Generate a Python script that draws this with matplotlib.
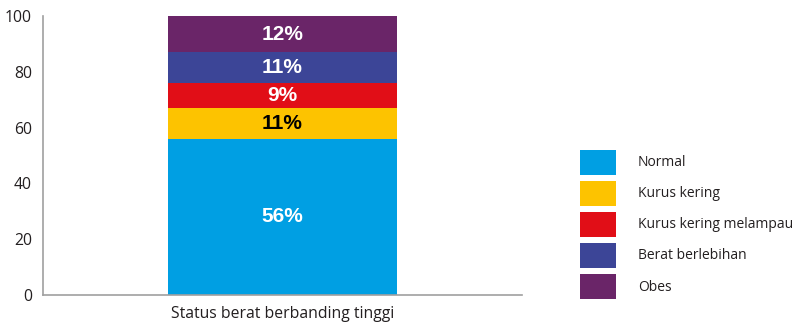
import matplotlib
matplotlib.use("Agg")
import matplotlib.pyplot as plt

# data
kategori = ["Status berat berbanding tinggi"]
status = ["Normal", "Kurus kering", "Kurus kering melampau", "Berat berlebihan", "Obes"]
nilai = [56, 11, 9, 11, 13]
label_nilai = ["56%", "11%", "9%", "11%", "12%"]
warna = ["#009fe3", "#fdc300", "#e10e17", "#3c4597", "#6a2568"]
warna_teks = ["white", "black", "white", "white", "white"]
yticks = [0, 20, 40, 60, 80, 100]

plt.rcParams['font.family'] = ['Open Sans', 'DejaVu Sans']

fig = plt.figure(figsize=(8.01, 3.22), dpi=100)
ax = fig.add_axes([43/801, 27/322, 479/801, 279/322])

bawah = 0
for v, lab, c, tc, nama in zip(nilai, label_nilai, warna, warna_teks, status):
    ax.bar(kategori, [v], bottom=bawah, width=0.48, color=c, label=nama)
    ax.text(0, bawah + v/2, lab, ha='center', va='center', color=tc,
            fontsize=15, fontweight='bold', family='Liberation Sans')
    bawah += v

ax.set_xlim(-0.5, 0.5)
ax.set_ylim(0, 100)
ax.set_yticks(yticks)
ax.tick_params(axis='both', length=0, labelsize=11.3, colors='#231f20')
ax.tick_params(axis='y', pad=8)
ax.tick_params(axis='x', pad=8)
for s in ['top', 'right']:
    ax.spines[s].set_visible(False)
for s in ['left', 'bottom']:
    ax.spines[s].set_color('#a0a0a0')
    ax.spines[s].set_linewidth(1.2)

fig.legend(loc='upper left', bbox_to_anchor=(574/801, 1 - 144/322), frameon=False,
           fontsize=10, handlelength=2.6, handleheight=2.4, labelspacing=0.43,
           handletextpad=1.6, borderaxespad=0, labelcolor='#231f20')

fig.savefig("out.png", dpi=100)
